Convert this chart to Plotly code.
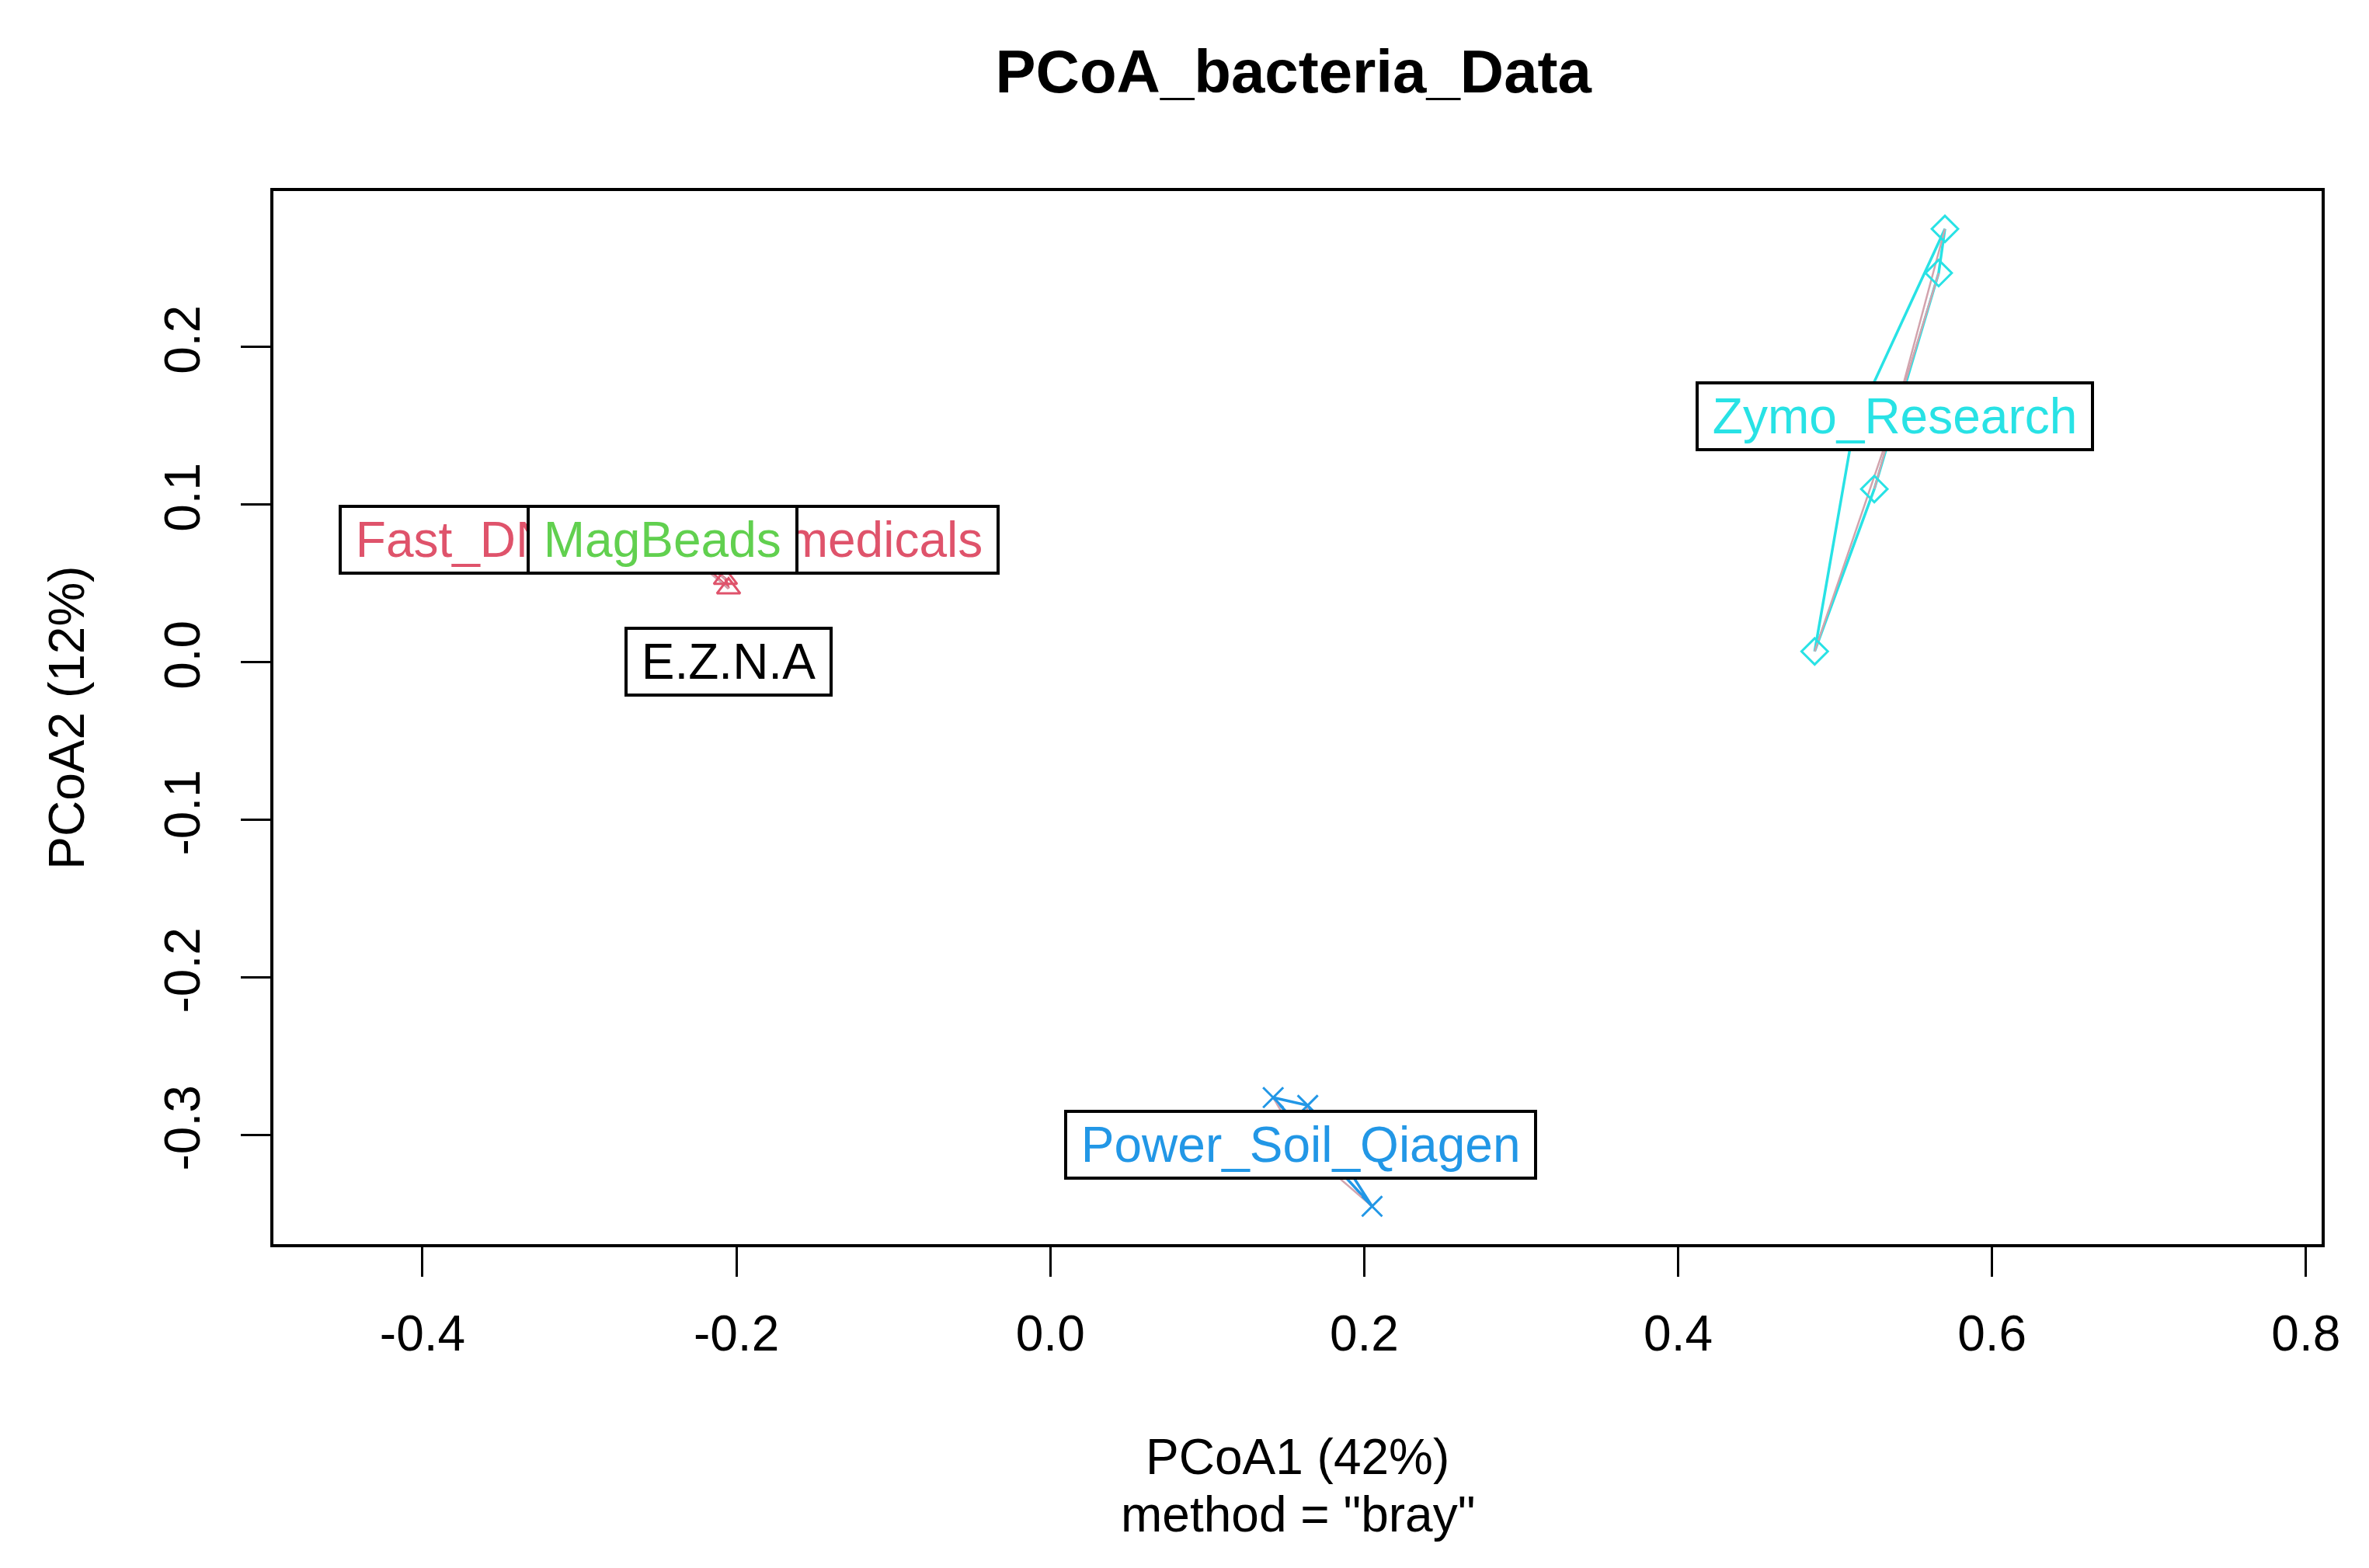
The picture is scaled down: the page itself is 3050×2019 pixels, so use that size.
import plotly.graph_objects as go

# groups, in the order R draws them (factor levels)
groups = ['E.Z.N.A', 'Fast_DNA_MP_Biomedicals', 'MagBeads', 'Power_Soil_Qiagen', 'Zymo_Research']
colors = ['#000000', '#DF536B', '#61D04F', '#2297E6', '#28E2E5']
symbols = ['circle-open', 'triangle-up-open', 'cross-thin-open', 'x-thin-open', 'diamond-open']

# PCoA scores (some points sit under the label boxes)
pc1 = {
    'E.Z.N.A': [-0.210, -0.200, -0.206],
    'Fast_DNA_MP_Biomedicals': [-0.207, -0.205, -0.240],
    'MagBeads': [-0.252, -0.243, -0.247],
    'Power_Soil_Qiagen': [0.142, 0.164, 0.205],
    'Zymo_Research': [0.570, 0.566, 0.525, 0.487, 0.512],
}
pc2 = {
    'E.Z.N.A': [0.004, -0.004, 0.000],
    'Fast_DNA_MP_Biomedicals': [0.053, 0.047, 0.080],
    'MagBeads': [0.081, 0.075, 0.078],
    'Power_Soil_Qiagen': [-0.276, -0.281, -0.345],
    'Zymo_Research': [0.275, 0.247, 0.110, 0.007, 0.150],
}
# where the group labels sit (group centres)
label_x = [-0.205, -0.243, -0.247, 0.1595, 0.538]
label_y = [0.0005, 0.078, 0.078, -0.306, 0.156]

x_ticks = [-0.4, -0.2, 0.0, 0.2, 0.4, 0.6, 0.8]
y_ticks = [-0.3, -0.2, -0.1, 0.0, 0.1, 0.2]

FONT = 'Liberation Sans, Arial, sans-serif'


def hull(pts):
    pts = sorted(set(pts))
    if len(pts) < 3:
        return pts
    def cross(o, a, b):
        return (a[0] - o[0]) * (b[1] - o[1]) - (a[1] - o[1]) * (b[0] - o[0])
    lower, upper = [], []
    for p in pts:
        while len(lower) >= 2 and cross(lower[-2], lower[-1], p) <= 0:
            lower.pop()
        lower.append(p)
    for p in reversed(pts):
        while len(upper) >= 2 and cross(upper[-2], upper[-1], p) <= 0:
            upper.pop()
        upper.append(p)
    return lower[:-1] + upper[:-1]


fig = go.Figure()

for i, g in enumerate(groups):
    xs, ys = pc1[g], pc2[g]
    # hull
    h = hull(list(zip(xs, ys)))
    h = h + h[:1]
    fig.add_trace(go.Scatter(x=[p[0] for p in h], y=[p[1] for p in h], mode='lines',
                             line=dict(color=colors[i], width=3.5), hoverinfo='skip', showlegend=False))
    # spider lines to the group centre
    sx, sy = [], []
    for x, y in zip(xs, ys):
        sx += [label_x[i], x, None]
        sy += [label_y[i], y, None]
    fig.add_trace(go.Scatter(x=sx, y=sy, mode='lines', line=dict(color='#D2A3AD', width=2.5),
                             hoverinfo='skip', showlegend=False))
    fig.add_trace(go.Scatter(x=xs, y=ys, mode='markers', name=g, showlegend=False,
                             marker=dict(symbol=symbols[i], size=26, color=colors[i],
                                         line=dict(color=colors[i], width=3))))

for i, g in enumerate(groups):
    fig.add_annotation(x=label_x[i], y=label_y[i], xref='x', yref='y',
                       text='\u00a0' + g + '\u00a0', showarrow=False,
                       font=dict(family=FONT, size=64, color=colors[i]),
                       bgcolor='white', bordercolor='black', borderwidth=4, borderpad=0,
                       height=82)

fig.add_annotation(text='PCoA1 (42%)', xref='paper', yref='paper', x=0.5, y=-0.230,
                   xanchor='center', showarrow=False, font=dict(family=FONT, size=64, color='black'))
fig.add_annotation(text='method = "bray"', xref='paper', yref='paper', x=0.5, y=-0.285,
                   xanchor='center', showarrow=False, font=dict(family=FONT, size=64, color='black'))
fig.add_annotation(text='PCoA2 (12%)', xref='paper', yref='paper', x=-0.101, y=0.5,
                   xanchor='center', textangle=-90, showarrow=False,
                   font=dict(family=FONT, size=64, color='black'))

fig.update_layout(
    width=3034, height=2003,
    margin=dict(l=344, r=53, t=238, b=409),
    paper_bgcolor='white', plot_bgcolor='white',
    title=dict(text='<b>PCoA_bacteria_Data</b>', xref='paper', x=0.498, xanchor='center',
               y=0.958, yanchor='middle',
               font=dict(family=FONT, size=78, color='black')),
    xaxis=dict(range=[-0.495, 0.810], showgrid=False, zeroline=False,
               showline=True, mirror=True, linecolor='black', linewidth=4,
               ticks='outside', ticklen=38, tickwidth=3, tickcolor='black',
               tickvals=x_ticks, ticktext=['%.1f' % v for v in x_ticks],
               ticklabelstandoff=18,
               tickfont=dict(family=FONT, size=64, color='black')),
    yaxis=dict(range=[-0.369, 0.299], showgrid=False, zeroline=False,
               showline=True, mirror=True, linecolor='black', linewidth=4,
               ticks='outside', ticklen=38, tickwidth=3, tickcolor='black',
               tickvals=y_ticks, ticktext=['%.1f' % v for v in y_ticks],
               tickangle=-90, ticklabelstandoff=27,
               tickfont=dict(family=FONT, size=64, color='black')),
)

fig.write_html('out.html')
